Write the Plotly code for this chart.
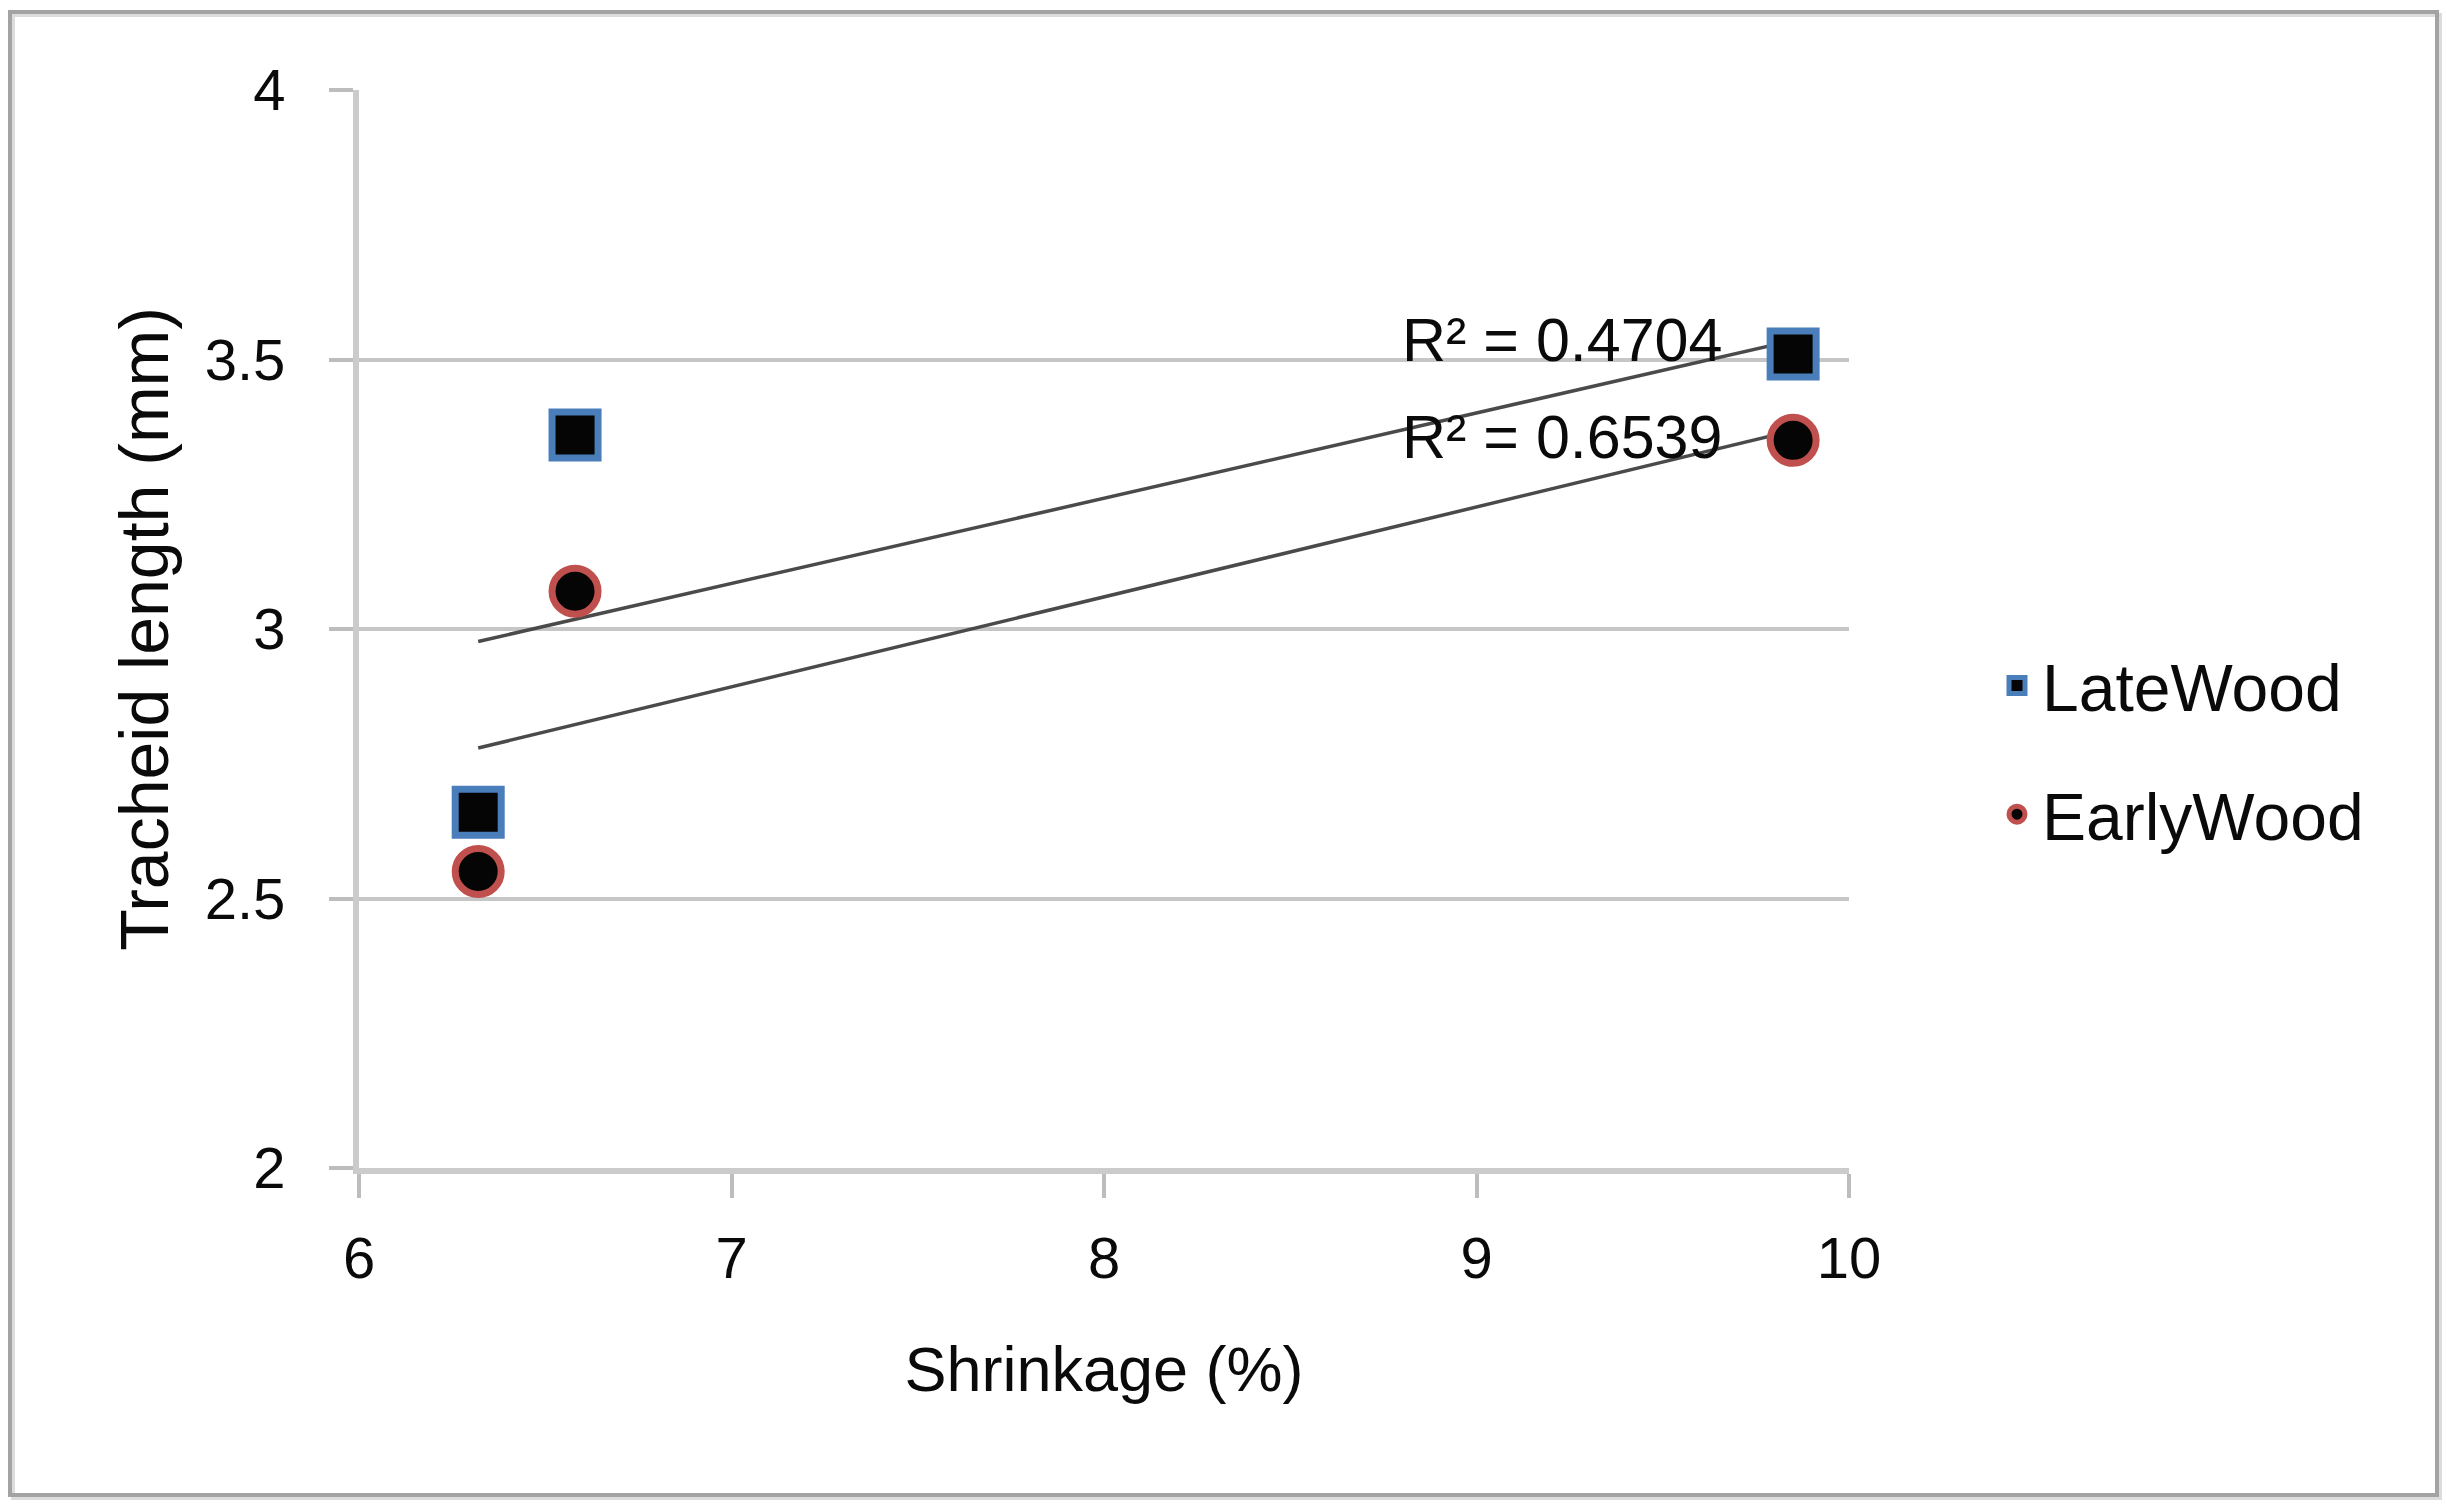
import numpy as np
import plotly.graph_objects as go

# ---- data ----
late_x = [6.32, 6.58, 9.85]
late_y = [2.66, 3.36, 3.51]
early_x = [6.32, 6.58, 9.85]
early_y = [2.55, 3.07, 3.35]
series_names = ["LateWood", "EarlyWood"]
x_title = "Shrinkage (%)"
y_title = "Tracheid length (mm)"
x_ticks = [6, 7, 8, 9, 10]
y_ticks = [2, 2.5, 3, 3.5, 4]

W, H = 2446, 1505
ML, MR, MT, MB = 359, 597, 90, 337
FONT = "Liberation Sans, Arial, sans-serif"
TXT = "#0a0a0a"


def trend(x, y):
    x = np.asarray(x, float)
    y = np.asarray(y, float)
    m, b = np.polyfit(x, y, 1)
    yh = m * x + b
    r2 = 1 - np.sum((y - yh) ** 2) / np.sum((y - y.mean()) ** 2)
    xs = np.array([x.min(), x.max()])
    return xs, m * xs + b, r2


fig = go.Figure()

lx, ly, lr2 = trend(late_x, late_y)
ex, ey, er2 = trend(early_x, early_y)

for xs, ys in [(lx, ly), (ex, ey)]:
    fig.add_trace(go.Scatter(x=xs, y=ys, mode="lines", showlegend=False,
                             line=dict(color="#4a4a4a", width=3.5), hoverinfo="skip"))

fig.add_trace(go.Scatter(
    x=late_x, y=late_y, mode="markers", name=series_names[0], legendgroup="a",
    marker=dict(symbol="square", size=46, color="#050505",
                line=dict(color="#4a7ebb", width=7))))
fig.add_trace(go.Scatter(
    x=early_x, y=early_y, mode="markers", name=series_names[1], legendgroup="b",
    marker=dict(symbol="circle", size=46, color="#050505",
                line=dict(color="#c0504d", width=7))))

# R² labels
fig.add_annotation(x=9.664, y=3.536, xref="x", yref="y", xanchor="right", yanchor="middle",
                   text=f"R² = {lr2:.4f}", showarrow=False,
                   font=dict(family=FONT, size=61, color=TXT))
fig.add_annotation(x=9.664, y=3.356, xref="x", yref="y", xanchor="right", yanchor="middle",
                   text=f"R² = {er2:.4f}", showarrow=False,
                   font=dict(family=FONT, size=61, color=TXT))

# outer chart border
pw, ph = W - ML - MR, H - MT - MB
def px2x(p):
    return (p - ML) / pw
def px2y(p):
    return 1 - (p - MT) / ph

fig.add_shape(type="rect", xref="paper", yref="paper",
              x0=px2x(13), x1=px2x(2440), y0=px2y(15), y1=px2y(1498),
              line=dict(color="#dcdcdc", width=4), layer="below")
fig.add_shape(type="rect", xref="paper", yref="paper",
              x0=px2x(10), x1=px2x(2437), y0=px2y(12), y1=px2y(1495),
              line=dict(color="#a3a3a3", width=4), layer="below")

fig.update_layout(
    width=W, height=H,
    margin=dict(l=ML, r=MR, t=MT, b=MB),
    paper_bgcolor="white", plot_bgcolor="white",
    font=dict(family=FONT, size=58, color=TXT),
    showlegend=True,
    legend=dict(x=px2x(1992), y=px2y(750), xanchor="left", yanchor="middle",
                font=dict(family=FONT, size=66, color=TXT), itemwidth=40,
                tracegroupgap=40, bgcolor="rgba(0,0,0,0)", itemsizing="trace"),
    xaxis=dict(range=[6, 10], tickvals=x_ticks, ticktext=[str(v) for v in x_ticks],
               showgrid=False, zeroline=False,
               showline=True, linecolor="#cbcbcb", linewidth=6,
               ticks="outside", ticklen=24, tickwidth=4, tickcolor="#bdbdbd",
               ticklabelstandoff=10,
               title=dict(text=x_title, font=dict(family=FONT, size=63, color=TXT),
                          standoff=60)),
    yaxis=dict(range=[2, 4], tickvals=y_ticks, ticktext=["2", "2.5", "3", "3.5", "4"],
               showgrid=True, gridcolor="#c6c6c6", gridwidth=4, zeroline=False,
               showline=True, linecolor="#cbcbcb", linewidth=6,
               ticks="outside", ticklen=24, tickwidth=4, tickcolor="#bdbdbd",
               ticklabelstandoff=32,
               title=dict(text=y_title, font=dict(family=FONT, size=68, color=TXT),
                          standoff=16)),
)

fig.write_html("out.html")
